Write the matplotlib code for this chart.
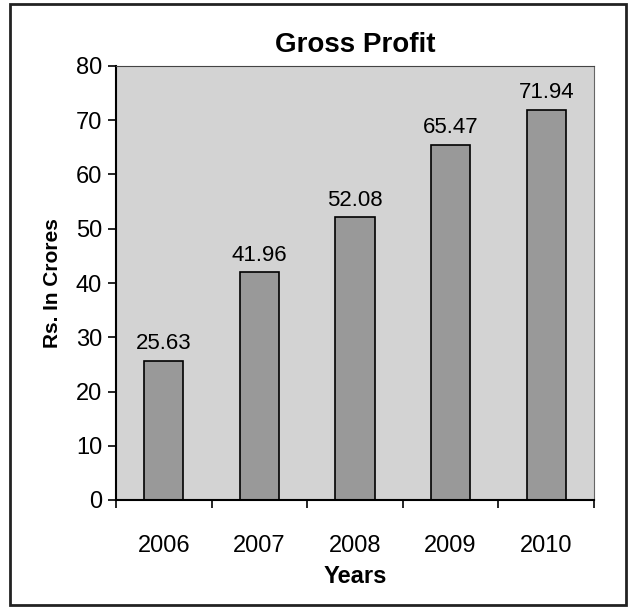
import matplotlib.pyplot as plt
from matplotlib.patches import Rectangle

years = ["2006", "2007", "2008", "2009", "2010"]
profit = [25.63, 41.96, 52.08, 65.47, 71.94]
y_ticks = [0, 10, 20, 30, 40, 50, 60, 70, 80]

plt.rcParams['font.family'] = ['Liberation Sans', 'DejaVu Sans']

fig = plt.figure(figsize=(6.31, 6.07), dpi=100)
ax = fig.add_axes([116 / 631, 1 - 500 / 607, (594 - 116) / 631, (500 - 66) / 607])
ax.set_facecolor("#d3d3d3")

x = range(len(years))
bars = ax.bar(x, profit, width=0.41, color="#999999", edgecolor="black", linewidth=1.2)
for b, v in zip(bars, profit):
    ax.text(b.get_x() + b.get_width() / 2, v + 1.2, f"{v:.2f}",
            ha="center", va="bottom", fontsize=16)

ax.set_xlim(-0.5, len(years) - 0.5)
ax.set_ylim(0, 80)
ax.set_yticks(y_ticks)
ax.tick_params(axis="y", labelsize=17, length=6, width=1.2, direction="out", pad=4)
ax.set_xticks(x)
ax.set_xticklabels(years, fontsize=17)
ax.tick_params(axis="x", length=0, pad=25)
# ticks between categories
ax.set_xticks([i - 0.5 for i in range(len(years) + 1)], minor=True)
ax.tick_params(axis="x", which="minor", length=6, width=1.2, direction="out")

for s in ["left", "bottom"]:
    ax.spines[s].set_linewidth(1.5)
ax.spines["top"].set_color("#444444")
ax.spines["right"].set_color("#666666")

ax.set_title("Gross Profit", fontsize=20, fontweight="bold", pad=10)
ax.set_xlabel("Years", fontsize=17, fontweight="bold", labelpad=6)
ax.set_ylabel("Rs. In Crores", fontsize=15, fontweight="bold", labelpad=10)

fig.patches.append(Rectangle((10 / 631, 2 / 607), 616 / 631, 601 / 607,
                             transform=fig.transFigure, fill=False,
                             edgecolor="#222222", linewidth=2))

fig.savefig("out.png", dpi=100)
